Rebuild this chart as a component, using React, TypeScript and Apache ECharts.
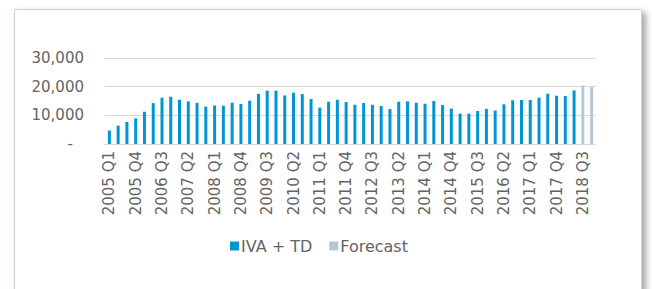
import React, { useEffect, useRef } from "react";
import * as echarts from "echarts";

const categories: string[] = [
  "2005 Q1", "2005 Q2", "2005 Q3", "2005 Q4",
  "2006 Q1", "2006 Q2", "2006 Q3", "2006 Q4",
  "2007 Q1", "2007 Q2", "2007 Q3", "2007 Q4",
  "2008 Q1", "2008 Q2", "2008 Q3", "2008 Q4",
  "2009 Q1", "2009 Q2", "2009 Q3", "2009 Q4",
  "2010 Q1", "2010 Q2", "2010 Q3", "2010 Q4",
  "2011 Q1", "2011 Q2", "2011 Q3", "2011 Q4",
  "2012 Q1", "2012 Q2", "2012 Q3", "2012 Q4",
  "2013 Q1", "2013 Q2", "2013 Q3", "2013 Q4",
  "2014 Q1", "2014 Q2", "2014 Q3", "2014 Q4",
  "2015 Q1", "2015 Q2", "2015 Q3", "2015 Q4",
  "2016 Q1", "2016 Q2", "2016 Q3", "2016 Q4",
  "2017 Q1", "2017 Q2", "2017 Q3", "2017 Q4",
  "2018 Q1", "2018 Q2", "2018 Q3", "2018 Q4",
];

const ivaTd: (number | null)[] = [
  4700, 6400, 7700, 8950,
  11250, 14250, 16150, 16500,
  15450, 14850, 14350, 13000,
  13450, 13350, 14400, 13950,
  15100, 17500, 18600, 18600,
  16950, 17900, 17400, 15700,
  12700, 14750, 15450, 14650,
  13700, 14300, 13700, 13250,
  12200, 14750, 14850, 14400,
  14050, 15000, 13600, 12350,
  10600, 10600, 11500, 12250,
  11650, 13850, 15250, 15350,
  15350, 16150, 17550, 16850,
  16750, 18700, null, null,
];

const forecast: (number | null)[] = [
  ...new Array(54).fill(null),
  20450, 19900,
];

const yTicks = { min: 0, max: 30000, interval: 10000 };

export default function App() {
  const ref = useRef<HTMLDivElement>(null);
  useEffect(() => {
    if (!ref.current) return;
    const chart = echarts.init(ref.current, null, { renderer: "svg" });
    const font = "DejaVu Sans";
    const txt = "#646464";
    chart.setOption({
      animation: false,
      backgroundColor: "#ffffff",
      textStyle: { fontFamily: font },
      graphic: [
        {
          type: "rect",
          z: -10,
          silent: true,
          shape: { x: 14.5, y: 9.5, width: 627, height: 290 },
          style: {
            fill: "#ffffff",
            stroke: "#c9d2de",
            lineWidth: 1,
            shadowBlur: 6,
            shadowOffsetX: 4,
            shadowOffsetY: 3,
            shadowColor: "rgba(0,0,0,0.35)",
          },
        },
      ],
      grid: { left: 105, right: 56, top: 58, bottom: 145, containLabel: false },
      legend: {
        data: [
          { name: "IVA + TD", itemStyle: { color: "#0096d6" } },
          { name: "Forecast", itemStyle: { color: "#b9c7d5" } },
        ],
        left: 225,
        top: 233,
        itemWidth: 9,
        itemHeight: 9,
        itemGap: 17,
        icon: "rect",
        textStyle: {
          fontFamily: font,
          fontSize: 16,
          color: txt,
          padding: [0, 0, 0, -3],
        },
      },
      xAxis: {
        type: "category",
        data: categories,
        axisLine: { lineStyle: { color: "#d9d9d9", width: 1 } },
        axisTick: { show: false },
        axisLabel: {
          interval: 2,
          rotate: 90,
          margin: 7,
          fontSize: 15,
          color: txt,
          fontFamily: font,
        },
      },
      yAxis: {
        type: "value",
        min: yTicks.min,
        max: yTicks.max,
        interval: yTicks.interval,
        axisLine: { show: false },
        axisTick: { show: false },
        splitLine: { lineStyle: { color: "#d9d9d9", width: 1 } },
        axisLabel: {
          margin: 21,
          fontSize: 15,
          color: txt,
          fontFamily: font,
          formatter: (v: number) =>
            v === 0 ? "{d|-}" : v.toLocaleString("en-US"),
          rich: {
            d: { fontSize: 15, color: txt, fontFamily: font, padding: [0, 11, 0, 0] },
          },
        },
      },
      series: [
        {
          name: "IVA + TD",
          type: "bar",
          data: ivaTd,
          barWidth: 3,
          barGap: "-100%",
          itemStyle: { color: "#0096d6" },
        },
        {
          name: "Forecast",
          type: "bar",
          data: forecast,
          barWidth: 3,
          barGap: "-100%",
          itemStyle: { color: "#b9c7d5" },
        },
      ],
    });
    return () => chart.dispose();
  }, []);
  return (
    <div
      ref={ref}
      style={{ position: "fixed", left: 0, top: 0, width: 652, height: 289 }}
    />
  );
}
